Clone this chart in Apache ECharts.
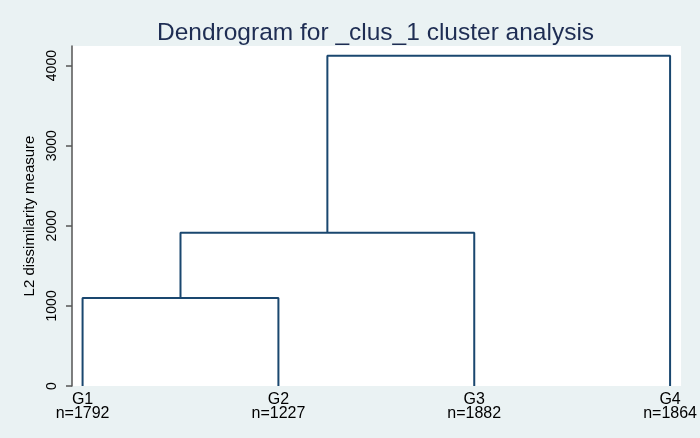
<!DOCTYPE html>
<html>
<head>
<meta charset="utf-8">
<script src="https://cdn.jsdelivr.net/npm/echarts@6/dist/echarts.min.js"></script>
<style>
html, body { margin: 0; padding: 0; background: #eaf2f3; }
#main { width: 700px; height: 438px; }
</style>
</head>
<body>
<div id="main"></div>
<script>
// leaves of the dendrogram, left to right
var leaves = ['G1', 'G2', 'G3', 'G4'];
var sizes = [1792, 1227, 1882, 1864];
// merges: child ids (0-3 leaves, 4+ earlier merges) and height
var mergeLeft = [0, 4, 5];
var mergeRight = [1, 2, 3];
var mergeHeight = [1100, 1912, 4122];
var yTicks = [0, 1000, 2000, 3000, 4000];

var myChart = echarts.init(document.getElementById('main'));

// x position and height of every node
var nodeX = leaves.map(function (d, i) { return i + 1; });
var nodeH = leaves.map(function () { return 0; });
var series = [];
for (var i = 0; i < mergeHeight.length; i++) {
    var a = mergeLeft[i], b = mergeRight[i], h = mergeHeight[i];
    series.push({
        type: 'line',
        silent: true,
        symbol: 'none',
        lineStyle: { color: '#1a476f', width: 2 },
        data: [[nodeX[a], nodeH[a]], [nodeX[a], h], [nodeX[b], h], [nodeX[b], nodeH[b]]]
    });
    nodeX.push((nodeX[a] + nodeX[b]) / 2);
    nodeH.push(h);
}

var option = {
    backgroundColor: '#eaf2f3',
    animation: false,
    textStyle: { fontFamily: 'Liberation Sans, Arial, sans-serif' },
    title: {
        text: 'Dendrogram for _clus_1 cluster analysis',
        left: 152,
        top: 16,
        textStyle: { color: '#1e2d53', fontSize: 24.5, fontWeight: 'normal' }
    },
    grid: { left: 72, right: 17, top: 46, bottom: 52, show: true, backgroundColor: '#ffffff', borderWidth: 0 },
    xAxis: {
        type: 'value',
        min: 0.946,
        max: 4.056,
        axisLine: { show: false },
        axisTick: { show: false },
        splitLine: { show: false },
        axisLabel: {
            customValues: [1, 2, 3, 4],
            color: '#000',
            fontSize: 16,
            lineHeight: 14,
            margin: 7,
            formatter: function (v) {
                var k = Math.round(v) - 1;
                return leaves[k] + '\nn=' + sizes[k];
            }
        }
    },
    yAxis: {
        type: 'value',
        min: 0,
        max: 4245,
        name: 'L2 dissimilarity measure',
        nameLocation: 'middle',
        nameRotate: 90,
        nameGap: 28,
        nameTextStyle: { color: '#000', fontSize: 15 },
        axisLine: { show: true, lineStyle: { color: '#555', width: 1.5 } },
        axisTick: { show: true, customValues: yTicks, length: 6, lineStyle: { color: '#555', width: 1.5 } },
        splitLine: { show: false },
        axisLabel: {
            customValues: yTicks,
            rotate: 90,
            color: '#000',
            fontSize: 14,
            margin: 13,
            formatter: function (v) { return String(v); }
        }
    },
    series: series
};

myChart.setOption(option);
</script>
</body>
</html>
